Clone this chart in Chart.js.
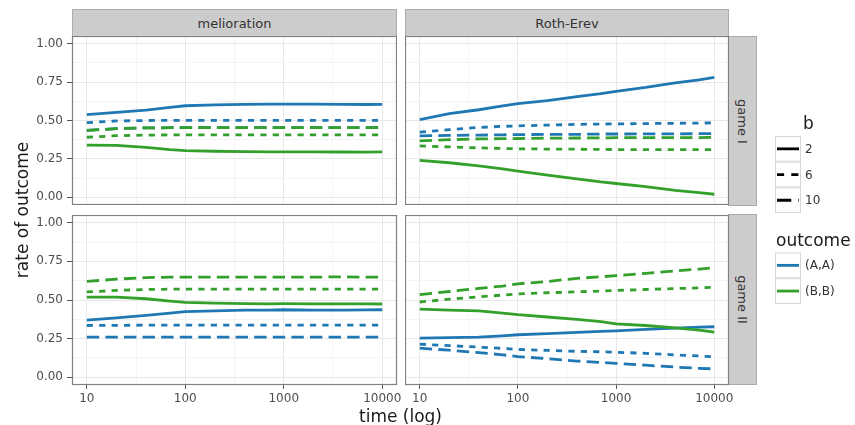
<!DOCTYPE html>
<html>
<head>
<meta charset="utf-8">
<script src="https://cdn.jsdelivr.net/npm/chart.js@4.4.0/dist/chart.umd.min.js"></script>
<style>
  body { margin: 0; width: 855px; height: 425px; background: #fff; position: relative; overflow: hidden;
         font-family: "DejaVu Sans", sans-serif; color: #1a1a1a; }
  canvas, .txt, .strip { position: absolute; }
  .strip { background: #cccccc; border: 1px solid #ababab; box-sizing: border-box; font-size: 13px; color: #333;
           display: flex; align-items: center; justify-content: center; white-space: nowrap; }
  .txt { white-space: nowrap; line-height: 20px; }
  .lab { font-size: 12px; color: #333; line-height: 14px; }
</style>
</head>
<body>
<div class="strip" style="left:72px;top:9px;width:325px;height:28px;">melioration</div>
<div class="strip" style="left:405px;top:9px;width:324px;height:28px;">Roth-Erev</div>
<div class="strip" style="left:728px;top:36px;width:29px;height:170px;"><span style="transform:rotate(90deg);">game I</span></div>
<div class="strip" style="left:728px;top:214px;width:29px;height:171px;"><span style="transform:rotate(90deg);">game II</span></div>

<canvas id="pMelI" width="397" height="169" style="left:0;top:36px;"></canvas>
<canvas id="pRothI" width="324" height="169" style="left:405px;top:36px;"></canvas>
<canvas id="pMelII" width="401" height="195" style="left:0;top:215px;"></canvas>
<canvas id="pRothII" width="330" height="195" style="left:405px;top:215px;"></canvas>

<div class="txt" style="left:0;top:0;width:200px;text-align:center;font-size:17px;transform:translate(-78px,200px) rotate(-90deg);">rate of outcome</div>
<div class="txt" style="left:300px;top:406px;width:201px;text-align:center;font-size:17px;">time (log)</div>

<canvas id="legendKeys" width="40" height="180" style="left:770px;top:130px;"></canvas>
<div class="txt" style="left:803px;top:113px;font-size:17px;">b</div>
<div class="txt" style="left:776px;top:230px;font-size:17px;">outcome</div>
<div id="legendLabels"></div>

<script>
const times = [10, 20, 40, 70, 100, 200, 400, 700, 1000, 2000, 4000, 7000, 10000];

// melioration, game I
const melI_AA_b2  = [0.538, 0.553, 0.568, 0.585, 0.596, 0.602, 0.605, 0.606, 0.607, 0.606, 0.605, 0.604, 0.605];
const melI_AA_b6  = [0.486, 0.497, 0.500, 0.501, 0.501, 0.501, 0.501, 0.501, 0.501, 0.501, 0.501, 0.501, 0.501];
const melI_AA_b10 = [0.436, 0.447, 0.452, 0.453, 0.453, 0.453, 0.453, 0.453, 0.453, 0.453, 0.453, 0.453, 0.453];
const melI_BB_b2  = [0.340, 0.338, 0.325, 0.310, 0.304, 0.300, 0.297, 0.296, 0.296, 0.296, 0.295, 0.294, 0.296];
const melI_BB_b6  = [0.391, 0.401, 0.405, 0.406, 0.406, 0.406, 0.406, 0.406, 0.406, 0.406, 0.406, 0.406, 0.406];
const melI_BB_b10 = [0.436, 0.447, 0.452, 0.453, 0.453, 0.453, 0.453, 0.453, 0.453, 0.453, 0.453, 0.453, 0.453];

// Roth-Erev, game I
const rothI_AA_b2  = [0.505, 0.545, 0.570, 0.595, 0.610, 0.630, 0.655, 0.675, 0.690, 0.715, 0.745, 0.765, 0.780];
const rothI_AA_b6  = [0.425, 0.440, 0.455, 0.462, 0.465, 0.470, 0.475, 0.477, 0.478, 0.480, 0.482, 0.483, 0.485];
const rothI_AA_b10 = [0.400, 0.403, 0.405, 0.407, 0.408, 0.410, 0.410, 0.412, 0.412, 0.413, 0.413, 0.414, 0.415];
const rothI_BB_b2  = [0.240, 0.225, 0.205, 0.185, 0.170, 0.145, 0.120, 0.100, 0.090, 0.070, 0.045, 0.030, 0.020];
const rothI_BB_b6  = [0.335, 0.328, 0.322, 0.318, 0.316, 0.314, 0.313, 0.312, 0.311, 0.311, 0.310, 0.310, 0.310];
const rothI_BB_b10 = [0.367, 0.375, 0.380, 0.382, 0.383, 0.385, 0.386, 0.387, 0.388, 0.388, 0.388, 0.389, 0.390];

// melioration, game II
const melII_AA_b2  = [0.370, 0.385, 0.400, 0.415, 0.425, 0.430, 0.435, 0.435, 0.437, 0.435, 0.435, 0.436, 0.437];
const melII_AA_b6  = [0.335, 0.336, 0.337, 0.337, 0.337, 0.337, 0.337, 0.337, 0.337, 0.337, 0.337, 0.337, 0.337];
const melII_AA_b10 = [0.260, 0.260, 0.260, 0.260, 0.260, 0.260, 0.260, 0.260, 0.260, 0.260, 0.260, 0.260, 0.260];
const melII_BB_b2  = [0.518, 0.518, 0.508, 0.493, 0.484, 0.480, 0.477, 0.475, 0.476, 0.475, 0.475, 0.475, 0.474];
const melII_BB_b6  = [0.552, 0.562, 0.568, 0.570, 0.570, 0.570, 0.570, 0.570, 0.571, 0.570, 0.570, 0.570, 0.571];
const melII_BB_b10 = [0.620, 0.635, 0.645, 0.648, 0.648, 0.648, 0.648, 0.648, 0.648, 0.648, 0.650, 0.648, 0.648];

// Roth-Erev, game II
const rothII_AA_b2  = [0.253, 0.256, 0.260, 0.268, 0.275, 0.282, 0.290, 0.297, 0.300, 0.310, 0.318, 0.324, 0.327];
const rothII_AA_b6  = [0.214, 0.205, 0.195, 0.187, 0.180, 0.174, 0.168, 0.165, 0.162, 0.155, 0.145, 0.138, 0.132];
const rothII_AA_b10 = [0.188, 0.175, 0.160, 0.145, 0.134, 0.120, 0.105, 0.096, 0.090, 0.078, 0.066, 0.058, 0.054];
const rothII_BB_b2  = [0.441, 0.435, 0.430, 0.415, 0.405, 0.390, 0.375, 0.360, 0.346, 0.335, 0.320, 0.305, 0.292];
const rothII_BB_b6  = [0.487, 0.505, 0.520, 0.532, 0.539, 0.547, 0.553, 0.558, 0.562, 0.568, 0.574, 0.578, 0.582];
const rothII_BB_b10 = [0.535, 0.555, 0.575, 0.590, 0.605, 0.620, 0.640, 0.650, 0.658, 0.672, 0.688, 0.700, 0.708];

const outcomes = ['(A,A)', '(B,B)'];
const bValues = ['2', '6', '10'];
const xBreaks = [10, 100, 1000, 10000];
const xMinor = [31.62, 316.2, 3162];
const yBreaks = [0, 0.25, 0.5, 0.75, 1];
const yMinor = [0.125, 0.375, 0.625, 0.875];

const colors = { '(A,A)': '#1F78B4', '(B,B)': '#33A02C' };
const dashes = { '2': [], '6': [6.2, 6.2], '10': [12.4, 6.2] };
const font = { family: '"DejaVu Sans", sans-serif', size: 12 };

function series(outcome, b, values) {
  return {
    label: outcome + ' b=' + b,
    data: times.map((t, i) => ({ x: t, y: values[i] })),
    borderColor: colors[outcome],
    borderDash: dashes[b],
    borderWidth: 2.8,
    pointRadius: 0,
    tension: 0,
    fill: false
  };
}

// Rahmen um jedes Panel
const panelBorder = {
  id: 'panelBorder',
  afterDraw(chart) {
    const { ctx, chartArea: a } = chart;
    ctx.save();
    ctx.strokeStyle = '#808080';
    ctx.lineWidth = 1.2;
    ctx.strokeRect(a.left + 0.5, a.top + 0.5, a.right - a.left - 1, a.bottom - a.top - 1);
    ctx.restore();
  }
};

function noPad(s) {
  s.paddingTop = 0; s.paddingBottom = 0; s.paddingLeft = 0; s.paddingRight = 0;
}

function makePanel(id, datasets, showY, showX, padRight) {
  new Chart(document.getElementById(id), {
    type: 'line',
    data: { datasets },
    options: {
      responsive: false,
      animation: false,
      events: [],
      layout: { autoPadding: false, padding: { left: 0, top: 0, bottom: 0, right: padRight } },
      plugins: { legend: { display: false }, tooltip: { enabled: false } },
      scales: {
        x: {
          type: 'logarithmic',
          min: Math.pow(10, 0.85),
          max: Math.pow(10, 4.15),
          afterBuildTicks: s => { s.ticks = xBreaks.concat(xMinor).map(v => ({ value: v })); },
          afterFit: s => { s.height = showX ? 25 : 0; noPad(s); },
          border: { display: false },
          grid: {
            color: c => (c.tick && xMinor.includes(c.tick.value)) ? '#f4f4f4' : '#e8e8e8',
            lineWidth: 1,
            drawTicks: showX,
            tickLength: 4,
            tickColor: c => (c.tick && xMinor.includes(c.tick.value)) ? 'rgba(0,0,0,0)' : '#555'
          },
          ticks: {
            display: showX,
            autoSkip: false,
            maxRotation: 0,
            padding: 3,
            color: '#4d4d4d',
            font,
            callback: v => xBreaks.includes(v) ? String(v) : ''
          }
        },
        y: {
          min: -0.05,
          max: 1.05,
          afterBuildTicks: s => { s.ticks = yBreaks.concat(yMinor).map(v => ({ value: v })); },
          afterFit: s => { s.width = showY ? 72 : 0; noPad(s); },
          border: { display: false },
          grid: {
            color: c => (c.tick && yMinor.includes(c.tick.value)) ? '#f4f4f4' : '#e8e8e8',
            lineWidth: 1,
            drawTicks: showY,
            tickLength: 5,
            tickColor: c => (c.tick && yMinor.includes(c.tick.value)) ? 'rgba(0,0,0,0)' : '#555'
          },
          ticks: {
            display: showY,
            autoSkip: false,
            padding: 4,
            color: '#4d4d4d',
            font,
            callback: v => yBreaks.includes(v) ? v.toFixed(2) : ''
          }
        }
      }
    },
    plugins: [panelBorder]
  });
}

// gruen zuerst, damit es oben liegt
makePanel('pMelI', [
  series('(B,B)', '2', melI_BB_b2), series('(B,B)', '6', melI_BB_b6), series('(B,B)', '10', melI_BB_b10),
  series('(A,A)', '2', melI_AA_b2), series('(A,A)', '6', melI_AA_b6), series('(A,A)', '10', melI_AA_b10)
], true, false, 0);
makePanel('pRothI', [
  series('(B,B)', '2', rothI_BB_b2), series('(B,B)', '6', rothI_BB_b6), series('(B,B)', '10', rothI_BB_b10),
  series('(A,A)', '2', rothI_AA_b2), series('(A,A)', '6', rothI_AA_b6), series('(A,A)', '10', rothI_AA_b10)
], false, false, 0);
makePanel('pMelII', [
  series('(B,B)', '2', melII_BB_b2), series('(B,B)', '6', melII_BB_b6), series('(B,B)', '10', melII_BB_b10),
  series('(A,A)', '2', melII_AA_b2), series('(A,A)', '6', melII_AA_b6), series('(A,A)', '10', melII_AA_b10)
], true, true, 4);
makePanel('pRothII', [
  series('(B,B)', '2', rothII_BB_b2), series('(B,B)', '6', rothII_BB_b6), series('(B,B)', '10', rothII_BB_b10),
  series('(A,A)', '2', rothII_AA_b2), series('(A,A)', '6', rothII_AA_b6), series('(A,A)', '10', rothII_AA_b10)
], false, true, 6);

// Legende: Schluessel zeichnen
const lctx = document.getElementById('legendKeys').getContext('2d');
const ox = 770, oy = 130;
const keyH = 25.7;
function keyBox(top, color, dash) {
  lctx.fillStyle = '#fff';
  lctx.fillRect(775 - ox, top - oy, 26, keyH);
  lctx.strokeStyle = '#d6d6d6';
  lctx.lineWidth = 1;
  lctx.strokeRect(775.5 - ox, top - oy + 0.5, 25, keyH - 1);
  lctx.strokeStyle = color;
  lctx.lineWidth = 2.8;
  lctx.setLineDash(dash.map(d => d * 1.15));
  lctx.beginPath();
  lctx.moveTo(777 - ox, top + keyH / 2 - oy);
  lctx.lineTo(799 - ox, top + keyH / 2 - oy);
  lctx.stroke();
  lctx.setLineDash([]);
}
const labelBox = document.getElementById('legendLabels');
function keyLabel(top, text) {
  const d = document.createElement('div');
  d.className = 'txt lab';
  d.style.left = '805px';
  d.style.top = (top + keyH / 2 - 7) + 'px';
  d.textContent = text;
  labelBox.appendChild(d);
}
bValues.forEach((b, i) => {
  const top = 136 + i * keyH;
  keyBox(top, '#000', dashes[b]);
  keyLabel(top, b);
});
outcomes.forEach((o, i) => {
  const top = 252.5 + i * keyH;
  keyBox(top, colors[o], []);
  keyLabel(top, o);
});
</script>
</body>
</html>
